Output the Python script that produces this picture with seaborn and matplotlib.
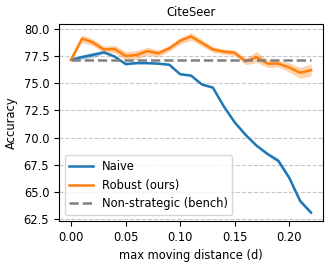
import numpy as np
import pandas as pd
import matplotlib
matplotlib.use("Agg")
import matplotlib.pyplot as plt
import seaborn as sns

# ============================================================
# DATA
# ============================================================
distance = [0.00, 0.01, 0.02, 0.03, 0.04, 0.05, 0.06, 0.07, 0.08, 0.09, 0.10, 0.11,
            0.12, 0.13, 0.14, 0.15, 0.16, 0.17, 0.18, 0.19, 0.20, 0.21, 0.22]
naive = [77.15, 77.4, 77.6, 77.84, 77.45, 76.76, 76.85, 76.85, 76.8, 76.7, 75.83, 75.7,
         74.88, 74.6, 72.87, 71.4, 70.25, 69.26, 68.5, 67.87, 66.3, 64.17, 63.1]
naive_err = [0.0, 0.2, 0.25, 0.12, 0.1, 0.1, 0.08, 0.08, 0.08, 0.08, 0.08, 0.08,
             0.08, 0.08, 0.1, 0.1, 0.12, 0.12, 0.15, 0.2, 0.2, 0.2, 0.12]
robust = [77.15, 79.1, 78.75, 78.1, 78.15, 77.5, 77.6, 77.95, 77.75, 78.2, 78.9, 79.3,
          78.7, 78.1, 77.9, 77.8, 77.0, 77.4, 76.8, 76.8, 76.45, 75.96, 76.2]
robust_err = [0.0, 0.35, 0.3, 0.3, 0.35, 0.4, 0.4, 0.35, 0.3, 0.25, 0.3, 0.35,
              0.3, 0.25, 0.25, 0.25, 0.3, 0.5, 0.35, 0.3, 0.43, 0.5, 0.55]
bench = 77.15

BLUE = "#1f77b4"
ORANGE = "#ff7f0e"
FS = 8.3

df = pd.DataFrame({"d": distance, "Naive": naive, "Robust (ours)": robust,
                   "bench": [bench] * len(distance)})

# ============================================================
# FIGURE
# ============================================================
fig, ax = plt.subplots(figsize=(3.32, 2.66), dpi=100)
fig.subplots_adjust(left=0.178, right=0.973, top=0.91, bottom=0.17)

ax.grid(axis="y", linestyle="--", color="#c8c8c8", linewidth=0.8)
ax.set_axisbelow(True)

sns.lineplot(data=df, x="d", y="Naive", color=BLUE, linewidth=1.8, label="Naive", ax=ax)
ax.fill_between(distance, np.array(naive) - naive_err, np.array(naive) + naive_err,
                color=BLUE, alpha=0.3, linewidth=0)
sns.lineplot(data=df, x="d", y="Robust (ours)", color=ORANGE, linewidth=1.8,
             label="Robust (ours)", ax=ax)
ax.fill_between(distance, np.array(robust) - robust_err, np.array(robust) + robust_err,
                color=ORANGE, alpha=0.35, linewidth=0)
sns.lineplot(data=df, x="d", y="bench", color="gray", linewidth=1.8, linestyle="--",
             label="Non-strategic (bench)", ax=ax)

ax.set_xlim(-0.011, 0.231)
ax.set_ylim(62.35, 80.45)
ax.set_xticks([0.00, 0.05, 0.10, 0.15, 0.20])
ax.set_yticks([62.5, 65.0, 67.5, 70.0, 72.5, 75.0, 77.5, 80.0])
ax.set_title("CiteSeer", fontsize=FS)
ax.set_xlabel("max moving distance (d)", fontsize=FS)
ax.set_ylabel("Accuracy", fontsize=FS)
ax.tick_params(labelsize=FS)
ax.legend(loc="lower left", fontsize=FS)

fig.savefig("out.png", dpi=100)
